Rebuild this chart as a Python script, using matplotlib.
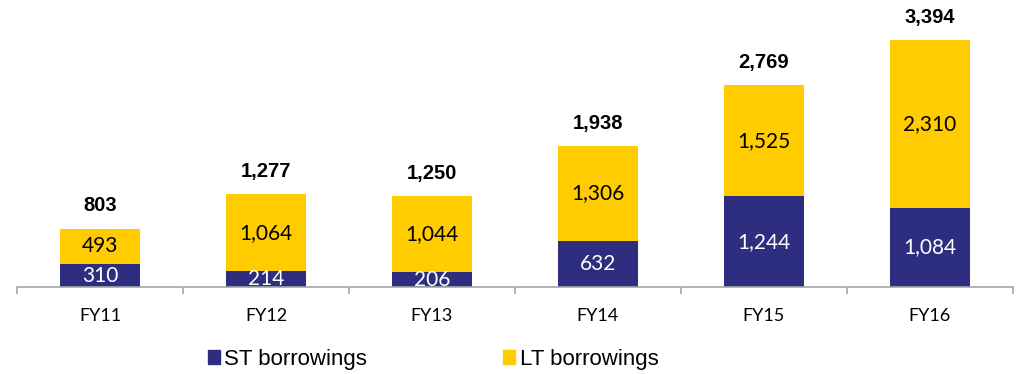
import matplotlib.pyplot as plt
from matplotlib.patches import Patch

years = ['FY11', 'FY12', 'FY13', 'FY14', 'FY15', 'FY16']
st_borrow = [310, 214, 206, 632, 1244, 1084]
lt_borrow = [493, 1064, 1044, 1306, 1525, 2310]
totals = [803, 1277, 1250, 1938, 2769, 3394]

navy = '#2E2E80'
yellow = '#FFCC00'
grey = '#A6A6A6'

fig = plt.figure(figsize=(10.19, 3.74), dpi=100)
ax = fig.add_axes([17/1019, 87/374, 996/1019, 287/374])

x = range(len(years))
ax.bar(x, st_borrow, width=0.48, color=navy)
ax.bar(x, lt_borrow, width=0.48, bottom=st_borrow, color=yellow)

for i in x:
    ax.text(i, st_borrow[i] / 2, '{:,}'.format(st_borrow[i]), ha='center', va='center',
            color='white', fontsize=15, family='Lato')
    ax.text(i, st_borrow[i] + lt_borrow[i] / 2, '{:,}'.format(lt_borrow[i]), ha='center',
            va='center', color='black', fontsize=15, family='Lato')
    ax.annotate('{:,}'.format(totals[i]), (i, totals[i]), xytext=(0, 16.5),
                textcoords='offset points', ha='center', va='center',
                fontsize=14.5, fontweight='bold', family='Liberation Sans')

ax.set_xlim(-0.5, 5.5)
ax.set_ylim(0, 287 / 0.07278)

for s in ['top', 'right', 'left']:
    ax.spines[s].set_visible(False)
ax.spines['bottom'].set_color(grey)
ax.spines['bottom'].set_linewidth(1.2)
ax.set_yticks([])

ax.set_xticks(list(x))
ax.set_xticklabels(years, family='Lato', fontsize=13)
ax.tick_params(axis='x', which='major', length=0, pad=15)
ax.set_xticks([i - 0.5 for i in range(len(years) + 1)], minor=True)
ax.tick_params(axis='x', which='minor', length=5, color=grey, width=1.2)

handles = [Patch(color=navy, label='ST borrowings'), Patch(color=yellow, label='LT borrowings')]
fig.legend(handles=handles, loc='center', bbox_to_anchor=(433/1019, 1 - 359/374), ncol=2,
           frameon=False, handlelength=0.55, handleheight=0.6, handletextpad=0.2,
           columnspacing=6.1, borderpad=0,
           prop={'family': 'Liberation Sans', 'size': 16})

fig.savefig('out.png', dpi=100)
